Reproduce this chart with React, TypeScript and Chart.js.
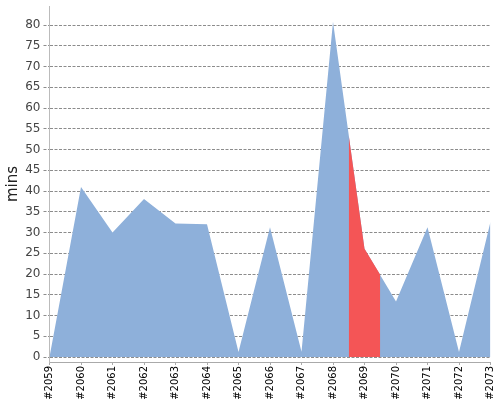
import { useEffect, useRef } from "react";
import { Chart, registerables } from "chart.js";

Chart.register(...registerables);

// build numbers on the x axis
const builds = [2059, 2060, 2061, 2062, 2063, 2064, 2065, 2066, 2067, 2068, 2069, 2070, 2071, 2072, 2073];
// minutes per build
const mins = [0, 41, 30, 38.1, 32.2, 32, 1.2, 31.3, 1.3, 80.8, 26.1, 13.4, 31.3, 1.2, 32.6];
// highlighted stretch around #2069
const hiBuilds = [2068.5, 2069, 2069.5];
const hiMins = [53.4, 26.1, 19.8];
const yTicks = [0, 5, 10, 15, 20, 25, 30, 35, 40, 45, 50, 55, 60, 65, 70, 75, 80];

export default function App() {
    const canvasRef = useRef<HTMLCanvasElement | null>(null);

    useEffect(() => {
        const ctx = canvasRef.current?.getContext("2d");
        if (!ctx) return;

        const chart = new Chart(ctx, {
            type: "line",
            data: {
                datasets: [
                    {
                        label: "highlight",
                        data: hiBuilds.map((b, i) => ({ x: b, y: hiMins[i] })),
                        backgroundColor: "#f45556",
                        borderWidth: 0,
                        pointRadius: 0,
                        fill: "origin",
                        order: 0,
                    },
                    {
                        label: "mins",
                        data: builds.map((b, i) => ({ x: b, y: mins[i] })),
                        backgroundColor: "#8eb0da",
                        borderWidth: 0,
                        pointRadius: 0,
                        fill: "origin",
                        order: 1,
                    },
                ],
            },
            options: {
                animation: false,
                responsive: true,
                maintainAspectRatio: false,
                layout: { padding: { top: 6, right: 9.5, left: 0, bottom: 0 } },
                plugins: {
                    legend: { display: false },
                    tooltip: { enabled: false },
                },
                scales: {
                    x: {
                        type: "linear",
                        min: builds[0],
                        max: builds[builds.length - 1],
                        afterFit: (s) => {
                            s.height = 38;
                            s.paddingLeft = 0;
                            s.paddingRight = 0;
                        },
                        grid: {
                            drawOnChartArea: false,
                            tickLength: 3,
                            color: "#aaa",
                        },
                        border: { color: "#aaa", width: 1 },
                        ticks: {
                            stepSize: 1,
                            autoSkip: false,
                            maxRotation: 90,
                            minRotation: 90,
                            padding: 1,
                            color: "#000",
                            font: { size: 10, family: "DejaVu Sans" },
                            callback: (v) => "#" + v,
                        },
                    },
                    y: {
                        min: -1.2,
                        max: 84.6,
                        z: 1,
                        afterBuildTicks: (scale) => {
                            scale.ticks = yTicks.map((v) => ({ value: v }));
                        },
                        afterFit: (s) => {
                            s.width = 49.5;
                            s.paddingTop = 0;
                            s.paddingBottom = 0;
                        },
                        grid: {
                            color: "rgba(0,0,0,0.45)",
                            tickLength: 6,
                            lineWidth: 1,
                            tickBorderDash: [3, 1.5],
                        },
                        border: { color: "#bbb", width: 1, dash: [3, 1.5] },
                        ticks: {
                            padding: 3,
                            color: "#444",
                            font: { size: 12, family: "DejaVu Sans" },
                        },
                        title: {
                            display: true,
                            text: "mins",
                            color: "#222",
                            padding: { top: 4, bottom: 0 },
                            font: { size: 15, family: "DejaVu Sans" },
                        },
                    },
                },
            },
        });

        return () => chart.destroy();
    }, []);

    return (
        <div style={{ position: "fixed", left: 0, top: 0, width: 500, height: 400 }}>
            <canvas ref={canvasRef}></canvas>
        </div>
    );
}
